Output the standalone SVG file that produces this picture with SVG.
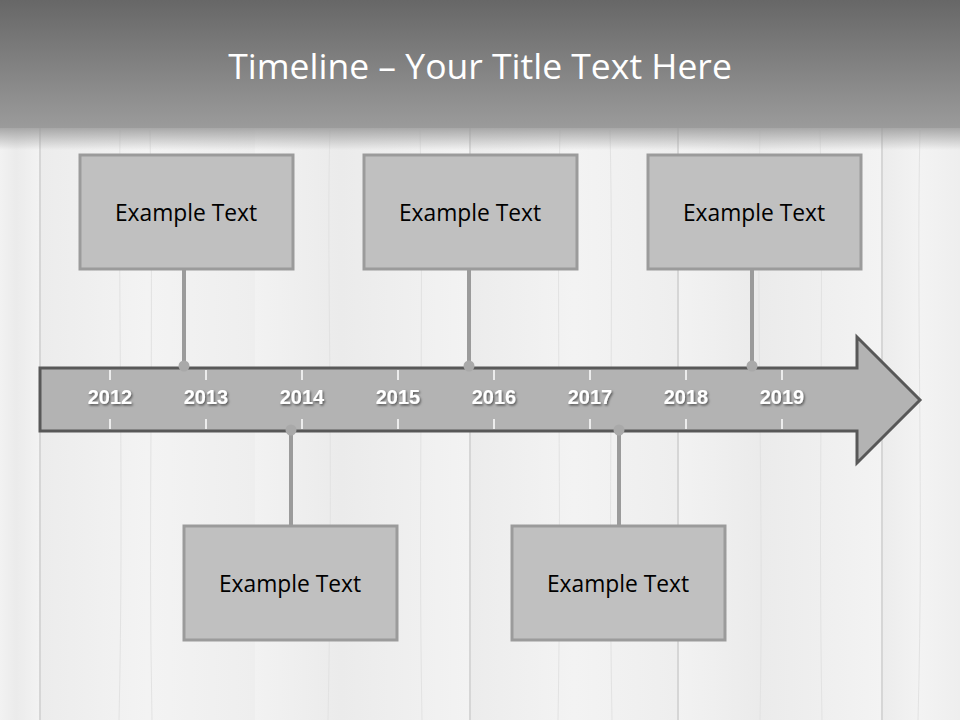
<svg xmlns="http://www.w3.org/2000/svg" width="960" height="720" viewBox="0 0 960 720">
<defs>
<linearGradient id="hdr" x1="0" y1="0" x2="0" y2="1">
<stop offset="0" stop-color="#676767"/>
<stop offset="1" stop-color="#9b9b9b"/>
</linearGradient>
<linearGradient id="hdrShadow" x1="0" y1="0" x2="0" y2="1">
<stop offset="0" stop-color="#9b9b9b" stop-opacity="0.85"/>
<stop offset="1" stop-color="#9b9b9b" stop-opacity="0"/>
</linearGradient>
<linearGradient id="plankA" x1="0" y1="0" x2="1" y2="0">
<stop offset="0" stop-color="#ececec"/>
<stop offset="0.5" stop-color="#f3f3f3"/>
<stop offset="1" stop-color="#eeeeee"/>
</linearGradient>
<linearGradient id="plankB" x1="0" y1="0" x2="1" y2="0">
<stop offset="0" stop-color="#f2f2f2"/>
<stop offset="0.4" stop-color="#ebebeb"/>
<stop offset="1" stop-color="#f3f3f3"/>
</linearGradient>
<filter id="txtShadow" x="-20%" y="-20%" width="140%" height="160%">
<feDropShadow dx="1.2" dy="1.5" stdDeviation="0.8" flood-color="#000" flood-opacity="0.55"/>
</filter>
</defs>
<style>
.seam{stroke:#d6d6d6;stroke-width:2}
.grain{stroke:#e2e2e2;stroke-width:1;fill:none}
.box{fill:#c0c0c0;stroke:#9b9b9b;stroke-width:3}
.boxText{font-family:"Open Sans","Liberation Sans",sans-serif;font-size:22.8px;fill:#000;text-anchor:middle}
.year{font-family:"Liberation Sans","Open Sans",sans-serif;font-size:20px;font-weight:bold;fill:#fff;text-anchor:middle}
.tick{stroke:#ffffff;stroke-width:1.5}
.conn{stroke:#9b9b9b;stroke-width:4;fill:none}
.dot{fill:#a9a9a9}
</style>

<!-- wood background -->
<g id="background">
<rect x="0" y="0" width="960" height="720" fill="#f0f0f0"/>
<rect x="0" y="0" width="40" height="720" fill="url(#plankB)"/>
<rect x="40" y="0" width="215" height="720" fill="url(#plankA)"/>
<rect x="255" y="0" width="215" height="720" fill="url(#plankB)"/>
<rect x="470" y="0" width="208" height="720" fill="url(#plankA)"/>
<rect x="678" y="0" width="204" height="720" fill="url(#plankB)"/>
<rect x="882" y="0" width="78" height="720" fill="url(#plankA)"/>
<line class="seam" x1="40" y1="0" x2="40" y2="720"/>
<line class="seam" x1="470" y1="0" x2="470" y2="720"/>
<line class="seam" x1="678" y1="0" x2="678" y2="720"/>
<line class="seam" x1="882" y1="0" x2="882" y2="720"/>
<path class="grain" d="M120 130 C118 300 124 500 119 720"/>
<path class="grain" d="M150 130 C154 330 148 520 152 720"/>
<path class="grain" d="M330 130 C326 260 334 420 328 720"/>
<path class="grain" d="M420 130 C424 300 418 500 422 720"/>
<path class="grain" d="M560 130 C556 300 562 500 558 720"/>
<path class="grain" d="M610 130 C614 300 608 500 612 720"/>
<path class="grain" d="M760 130 C756 320 764 510 760 720"/>
<path class="grain" d="M820 130 C824 300 818 500 822 720"/>
<path class="grain" d="M920 130 C916 300 924 500 918 720"/>
</g>

<!-- header -->
<g id="header">
<rect x="0" y="0" width="960" height="128" fill="url(#hdr)"/>
<rect x="0" y="128" width="960" height="22" fill="url(#hdrShadow)"/>
<text x="480" y="79" font-family="'Open Sans','Liberation Sans',sans-serif" font-size="35.5" fill="#ffffff" text-anchor="middle">Timeline – Your Title Text Here</text>
</g>

<!-- connectors -->
<g id="connectors">
<line class="conn" x1="184" y1="269" x2="184" y2="366"/>
<line class="conn" x1="469" y1="269" x2="469" y2="366"/>
<line class="conn" x1="752" y1="269" x2="752" y2="366"/>
<line class="conn" x1="291" y1="430" x2="291" y2="526"/>
<line class="conn" x1="619" y1="430" x2="619" y2="526"/>
</g>

<!-- timeline arrow -->
<g id="timeline">
<path d="M40 368 L857 368 L857 337 L920 400 L857 463 L857 431 L40 431 Z" fill="#b3b3b3" stroke="#585858" stroke-width="3" stroke-linejoin="miter"/>
<g id="ticks">
<line class="tick" x1="110" y1="370" x2="110" y2="380"/><line class="tick" x1="110" y1="419" x2="110" y2="429"/>
<line class="tick" x1="206" y1="370" x2="206" y2="380"/><line class="tick" x1="206" y1="419" x2="206" y2="429"/>
<line class="tick" x1="302" y1="370" x2="302" y2="380"/><line class="tick" x1="302" y1="419" x2="302" y2="429"/>
<line class="tick" x1="398" y1="370" x2="398" y2="380"/><line class="tick" x1="398" y1="419" x2="398" y2="429"/>
<line class="tick" x1="494" y1="370" x2="494" y2="380"/><line class="tick" x1="494" y1="419" x2="494" y2="429"/>
<line class="tick" x1="590" y1="370" x2="590" y2="380"/><line class="tick" x1="590" y1="419" x2="590" y2="429"/>
<line class="tick" x1="686" y1="370" x2="686" y2="380"/><line class="tick" x1="686" y1="419" x2="686" y2="429"/>
<line class="tick" x1="782" y1="370" x2="782" y2="380"/><line class="tick" x1="782" y1="419" x2="782" y2="429"/>
</g>
<g id="years" filter="url(#txtShadow)">
<text class="year" x="110" y="404">2012</text>
<text class="year" x="206" y="404">2013</text>
<text class="year" x="302" y="404">2014</text>
<text class="year" x="398" y="404">2015</text>
<text class="year" x="494" y="404">2016</text>
<text class="year" x="590" y="404">2017</text>
<text class="year" x="686" y="404">2018</text>
<text class="year" x="782" y="404">2019</text>
</g>
</g>

<!-- connector dots -->
<g id="dots">
<circle class="dot" cx="184" cy="366" r="5.5"/>
<circle class="dot" cx="469" cy="366" r="5.5"/>
<circle class="dot" cx="752" cy="366" r="5.5"/>
<circle class="dot" cx="291" cy="430" r="5.5"/>
<circle class="dot" cx="619" cy="430" r="5.5"/>
</g>

<!-- nodes -->
<g id="node1"><rect class="box" x="80" y="155" width="213" height="114"/><text class="boxText" x="186" y="221">Example Text</text></g>
<g id="node2"><rect class="box" x="364" y="155" width="213" height="114"/><text class="boxText" x="470" y="221">Example Text</text></g>
<g id="node3"><rect class="box" x="648" y="155" width="213" height="114"/><text class="boxText" x="754" y="221">Example Text</text></g>
<g id="node4"><rect class="box" x="184" y="526" width="213" height="114"/><text class="boxText" x="290" y="592">Example Text</text></g>
<g id="node5"><rect class="box" x="512" y="526" width="213" height="114"/><text class="boxText" x="618" y="592">Example Text</text></g>
</svg>
